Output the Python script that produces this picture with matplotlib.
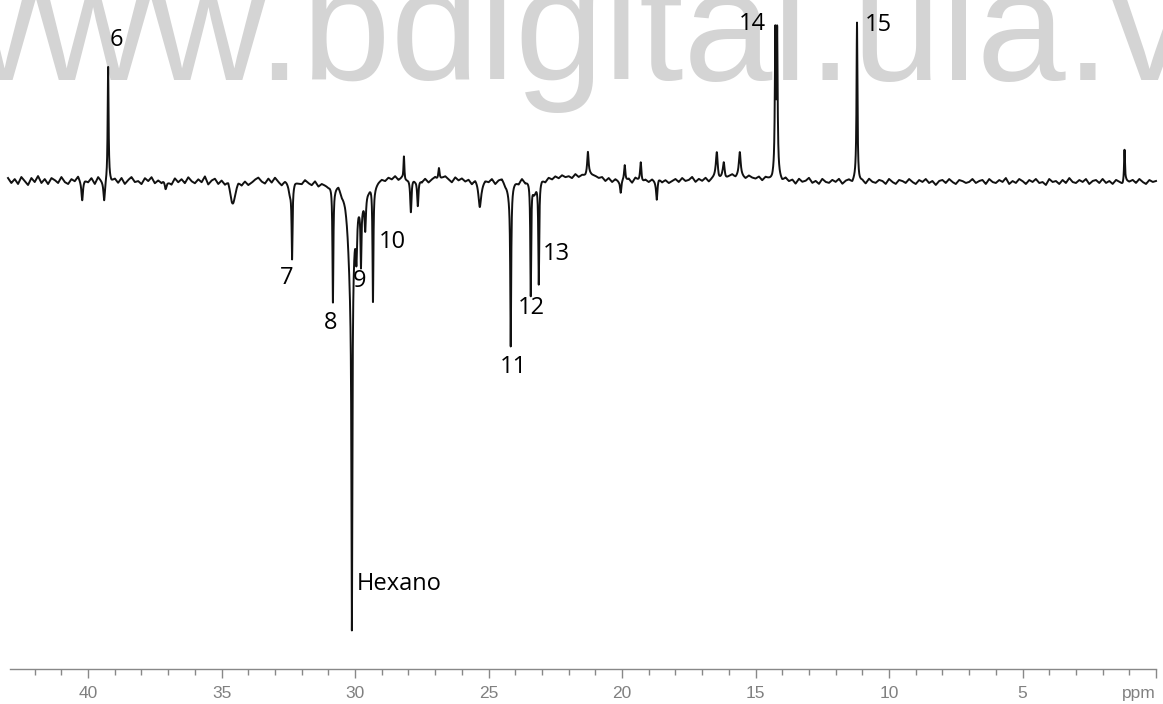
import numpy as np
import matplotlib
matplotlib.use("Agg")
from matplotlib import pyplot as plt

# labelled signals (ppm, intensity, half width)
label_names = ["6", "7", "8", "Hexano", "9", "10", "11", "12", "13", "14", "15"]
label_ppm = [39.25, 32.36, 30.83, 30.12, 29.78, 29.33, 24.17, 23.42, 23.12, 14.26, 11.20]
label_int = [114, -71, -118, -350, -58, -118, -155, -115, -102, 132, 157]
label_hw = [0.02, 0.02, 0.02, 0.02, 0.02, 0.02, 0.02, 0.02, 0.02, 0.02, 0.02]

# smaller / broad signals without labels
minor_ppm = [14.19, 14.22, 1.18, 30.15, 29.75, 29.95, 29.62, 40.22, 39.40, 37.1,
             34.57, 32.45, 28.17, 27.91, 27.65, 26.86, 25.33, 24.2, 23.3,
             21.28, 20.05, 19.90, 19.30, 18.70, 16.45, 16.19, 15.59]
minor_int = [132, 15, 33, -100, -15, -45, -35, -18, -18, -12,
             -20, -12, 24, -35, -28, 13, -26, -15, -12,
             22, -13, 17, 20, -20, 26, 16, 24]
minor_hw = [0.02, 0.08, 0.02, 0.12, 0.2, 0.03, 0.03, 0.03, 0.03, 0.05,
            0.12, 0.08, 0.02, 0.03, 0.03, 0.03, 0.06, 0.1, 0.08,
            0.03, 0.03, 0.03, 0.03, 0.03, 0.04, 0.04, 0.04]

# baseline read every 0.125 ppm from 43.0 down to 0.0
baseline = [
    2, -3, 1, -4, 3, -1, -5, 2,
    -2, 4, -3, 1, -4, 2, 0, -3,
    3, -2, -4, 1, -1, 4, -3, 0,
    -2, 2, -4, 3, -1, -5, 1, -2,
    1, -3, 2, -4, 0, 3, -2, -1,
    -4, 2, -1, 3, -3, 0, -2, 4,
    -1, -4, 2, -2, 1, -3, 3, -1,
    -3, 1, -2, 4, -4, 0, 2, -3,
    1, -2, 3, -5, -1, 2, -3, 0,
    -4, -2, 1, 3, -1, -3, 2, -2,
    3, -1, -4, 1, 2, -3, 0, -2,
    -3, 1, -2, -4, 0, -5, -2, -3,
    -4, -1, -3, 1, -5, -2, -4, -1,
    -2, 0, -3, 1, -1, 2, -2, 1,
    3, 1, 4, 2, 5, 1, 3, 0,
    2, 4, 1, 3, -1, 2, -2, 1,
    3, -1, 2, 4, 1, -2, 3, 0,
    2, -1, 1, -3, 2, 0, -2, 1,
    -1, 2, -3, 1, 3, -2, 0, 2,
    1, -2, 3, -1, 2, 4, -1, 0,
    2, -1, 3, 1, 4, 2, 5, 3,
    4, 2, 6, 3, 5, 4, 7, 5,
    4, 2, 3, -1, 2, -2, 1, -1,
    0, -2, 1, -3, 2, -1, -3, 0,
    -2, 1, -1, 2, -2, 0, -3, -1,
    1, -2, 2, -1, 0, 3, -2, 1,
    -1, 2, -2, 1, 3, -1, 2, 0,
    3, 5, 2, 4, 3, 1, 4, 2,
    1, 3, -1, 2, 0, -2, 1, -1,
    -3, 1, -2, 0, -4, 1, -2, -1,
    2, -3, -1, -4, 1, -2, -3, 0,
    -2, 1, -4, -1, 0, -3, 2, -2,
    -1, -4, 1, -2, -3, 0, -1, -4,
    1, -2, -4, 0, -1, -3, 1, -2,
    -4, 0, -2, 1, -3, -1, -5, -1,
    0, -3, 1, -2, -4, 0, -1, -3,
    -2, 1, -3, -1, 0, -4, 1, -2,
    -3, 0, -2, 2, -4, -1, -3, 1,
    -1, -4, 0, -2, 1, -3, -2, -5,
    1, -2, -1, -4, 0, -3, 2, -2,
    -3, 0, -2, 1, -4, -1, 0, -3,
    1, -3, -1, -4, 0, -2, -5, -1,
    -2, 0, -3, 1, -2, -4, 0, -2,
    -1,
]
baseline_ppm = np.linspace(43.0, 0.0, len(baseline))

tick_values = [40, 35, 30, 25, 20, 15, 10, 5, 0]
tick_labels = ["40", "35", "30", "25", "20", "15", "10", "5", "ppm"]

# label baseline offsets from the peak tip, in pixels
label_offsets = [(8, 21), (-5, -25), (-2, -26), (5, 40), (-1, -18),
                 (19, 54), (3, -27), (1, -18), (18, 25), (-23, -5), (21, -8)]

ppm = np.arange(43.0, -0.0001, -0.004)
spec = np.interp(ppm, baseline_ppm[::-1], np.array(baseline, float)[::-1])
for p, a, w in zip(label_ppm + minor_ppm, label_int + minor_int, label_hw + minor_hw):
    spec += a * w ** 2 / ((ppm - p) ** 2 + w ** 2)

fig = plt.figure(figsize=(11.63, 7.04), dpi=100)
ax = fig.add_axes([0, 0, 1, 1])
ax.set_xlim(43.30, -0.262)
ax.set_ylim(-524, 180)

# watermark, behind the trace and the labels
ax.text(-0.069, 1 - 80 / 704, "www.bdigital.ula.ve", fontsize=115,
        family="Liberation Sans", color="#d4d4d4", va="baseline", ha="left",
        transform=fig.transFigure, zorder=0)

ax.plot(ppm, spec, color="#111111", lw=1.4, zorder=2)

for name, p, off in zip(label_names, label_ppm, label_offsets):
    tip = np.interp(p, ppm[::-1], spec[::-1])
    ha = "left" if name == "Hexano" else "center"
    ax.annotate(name, xy=(p, tip), xytext=off, textcoords="offset pixels",
                ha=ha, va="baseline", fontsize=17, family="Open Sans",
                color="black", zorder=3)

for s in ["top", "left", "right"]:
    ax.spines[s].set_visible(False)
ax.spines["bottom"].set_position(("data", -489))
ax.spines["bottom"].set_bounds(0, 42.93)
ax.spines["bottom"].set_color("#888888")
ax.spines["bottom"].set_linewidth(1.0)
ax.set_yticks([])
ax.set_xticks(tick_values)
ax.set_xticklabels(tick_labels)
ax.set_xticks(np.arange(1, 43), minor=True)
ax.tick_params(axis="x", which="major", length=6.5, width=1, color="#888888",
               labelcolor="#808080", labelsize=12.5, pad=6)
ax.tick_params(axis="x", which="minor", length=4, width=1, color="#888888")
for t in ax.get_xticklabels():
    t.set_family("Liberation Sans")
ax.get_xticklabels()[-1].set_ha("right")
ax.patch.set_visible(False)

fig.savefig("out.png", dpi=100)
